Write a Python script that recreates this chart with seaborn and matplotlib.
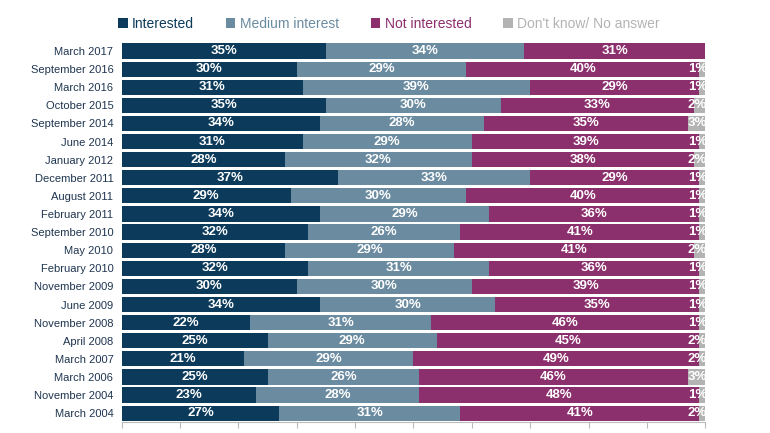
import matplotlib
matplotlib.use("Agg")
import matplotlib.pyplot as plt
import seaborn as sns
import pandas as pd
import numpy as np
from matplotlib.patches import Patch

surveys = ["March 2017", "September 2016", "March 2016", "October 2015", "September 2014",
           "June 2014", "January 2012", "December 2011", "August 2011", "February 2011",
           "September 2010", "May 2010", "February 2010", "November 2009", "June 2009",
           "November 2008", "April 2008", "March 2007", "March 2006", "November 2004",
           "March 2004"]
interested = [35, 30, 31, 35, 34, 31, 28, 37, 29, 34, 32, 28, 32, 30, 34, 22, 25, 21, 25, 23, 27]
medium = [34, 29, 39, 30, 28, 29, 32, 33, 30, 29, 26, 29, 31, 30, 30, 31, 29, 29, 26, 28, 31]
not_interested = [31, 40, 29, 33, 35, 39, 38, 29, 40, 36, 41, 41, 36, 39, 35, 46, 45, 49, 46, 48, 41]
dont_know = [0, 1, 1, 2, 3, 1, 2, 1, 1, 1, 1, 2, 1, 1, 1, 1, 2, 2, 3, 1, 2]

series = ["Interested", "Medium interest", "Not interested", "Don't know/ No answer"]
colors = ["#0b3a5b", "#6a8ba0", "#8c2f6d", "#b3b3b3"]

df = pd.DataFrame({"survey": surveys, "Interested": interested, "Medium interest": medium,
                   "Not interested": not_interested, "Don't know/ No answer": dont_know})
cum = df[series].cumsum(axis=1)

sns.set_style("white")
plt.rcParams['font.family'] = ['Liberation Sans', 'DejaVu Sans']

fig = plt.figure(figsize=(7.7, 4.33), dpi=100)
ax = fig.add_axes([0.158, 0.025, 0.758, 0.878])

# draw stacked bars from the outermost layer inwards
for s, c in reversed(list(zip(series, colors))):
    sns.barplot(x=cum[s], y=df["survey"], orient="h", color=c, width=0.84,
                ax=ax, saturation=1, linewidth=0)

# segment labels
for i in range(len(df)):
    left = 0
    for s in series:
        v = df.loc[i, s]
        if v > 0:
            x = left + v / 2
            if s == "Don't know/ No answer":
                x = 100.3
                ha = "right"
            else:
                ha = "center"
            ax.text(x, i, f"{v}%", ha=ha, va="center", clip_on=False,
                    color="white", fontsize=9.5, fontweight="bold")
        left += v

ax.set_xlim(0, 100)
ax.set_ylim(len(df) - 0.5, -0.5)
ax.set_xlabel("")
ax.set_ylabel("")
ax.set_xticks(np.arange(0, 101, 10))
ax.set_xticklabels([])
ax.tick_params(axis="x", direction="out", length=4, color="#bbbbbb", width=0.8, bottom=True)
ax.tick_params(axis="y", length=0, labelsize=8, labelcolor="#1f3550", pad=6)
for sp in ["top", "right", "left"]:
    ax.spines[sp].set_visible(False)
ax.spines["bottom"].set_color("#bbbbbb")
ax.spines["bottom"].set_linewidth(0.8)

handles = [Patch(facecolor=c, edgecolor="none") for c in colors]
leg = fig.legend(handles, series, loc="center", bbox_to_anchor=(0.505, 0.945), ncol=4,
                 frameon=False, fontsize=10, handlelength=0.7, handleheight=0.7,
                 handletextpad=0.3, columnspacing=2.3,
                 labelcolor=["#0b3a5b", "#6a8ba0", "#8c2f6d", "#b3b3b3"])

fig.savefig("out.png", dpi=100)
